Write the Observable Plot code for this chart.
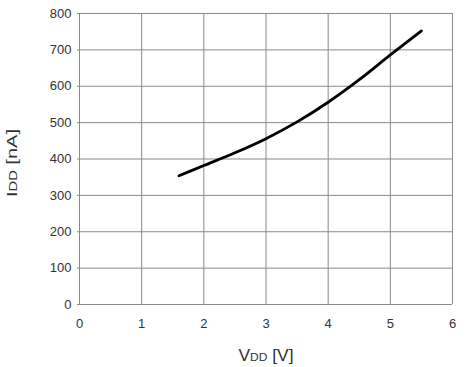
<!DOCTYPE html>
<html><head><meta charset="utf-8">
<script src="https://cdn.jsdelivr.net/npm/d3@7"></script>
<script src="https://cdn.jsdelivr.net/npm/@observablehq/plot@0.6"></script>
<style>body{margin:0;background:#fff;font-family:"Liberation Sans",Arial,sans-serif}</style>
</head><body><div id="chart"></div>
<script>
const vdd = [1.6, 2.0, 2.5, 3.0, 3.5, 4.0, 4.5, 5.0, 5.5];
const idd = [354, 382, 417, 456, 502, 556, 618, 686, 752];
const xTicks = [0, 1, 2, 3, 4, 5, 6];
const yTicks = [0, 100, 200, 300, 400, 500, 600, 700, 800];

const data = vdd.map((v, i) => ({v, i: idd[i]}));
const grid = "#8a8a8a";
const chart = Plot.plot({
  width: 468, height: 367,
  marginLeft: 79, marginRight: 16, marginTop: 13, marginBottom: 63,
  style: {fontFamily: "Liberation Sans, Arial, sans-serif", fontSize: "13px", color: "#333"},
  x: {domain: [0, 6], ticks: xTicks, label: null},
  y: {domain: [0, 800], ticks: yTicks, label: null},
  marks: [
    Plot.gridX(xTicks, {stroke: grid, strokeOpacity: 1, strokeWidth: 1}),
    Plot.gridY(yTicks, {stroke: grid, strokeOpacity: 1, strokeWidth: 1}),
    Plot.axisX(xTicks, {tickSize: 0, tickPadding: 14.5, fontSize: 13, fill: "#333"}),
    Plot.axisY(yTicks, {tickSize: 2, tickPadding: 6, fontSize: 13, fill: "#333", stroke: grid}),
    Plot.line(data, {x: "v", y: "i", stroke: "#000", strokeWidth: 2.8, curve: "monotone-x"})
  ]
});
document.getElementById("chart").append(chart);
const svg = d3.select(chart);
const font = "Liberation Sans, Arial, sans-serif";
const xl = svg.append("text").attr("x", 238.5).attr("y", 360.5).attr("text-anchor", "start")
  .attr("font-size", 16).attr("fill", "#333").attr("font-family", font)
  .attr("textLength", 55).attr("lengthAdjust", "spacingAndGlyphs");
xl.append("tspan").text("V");
xl.append("tspan").attr("font-size", 11).text("DD");
xl.append("tspan").text(" [V]");
const yl = svg.append("text").attr("transform", "translate(16.5,197) rotate(-90)").attr("text-anchor", "start")
  .attr("font-size", 15).attr("fill", "#333").attr("font-family", font)
  .attr("textLength", 68).attr("lengthAdjust", "spacingAndGlyphs");
yl.append("tspan").text("I");
yl.append("tspan").attr("font-size", 11).text("DD");
yl.append("tspan").text(" [nA]");
</script></body></html>
